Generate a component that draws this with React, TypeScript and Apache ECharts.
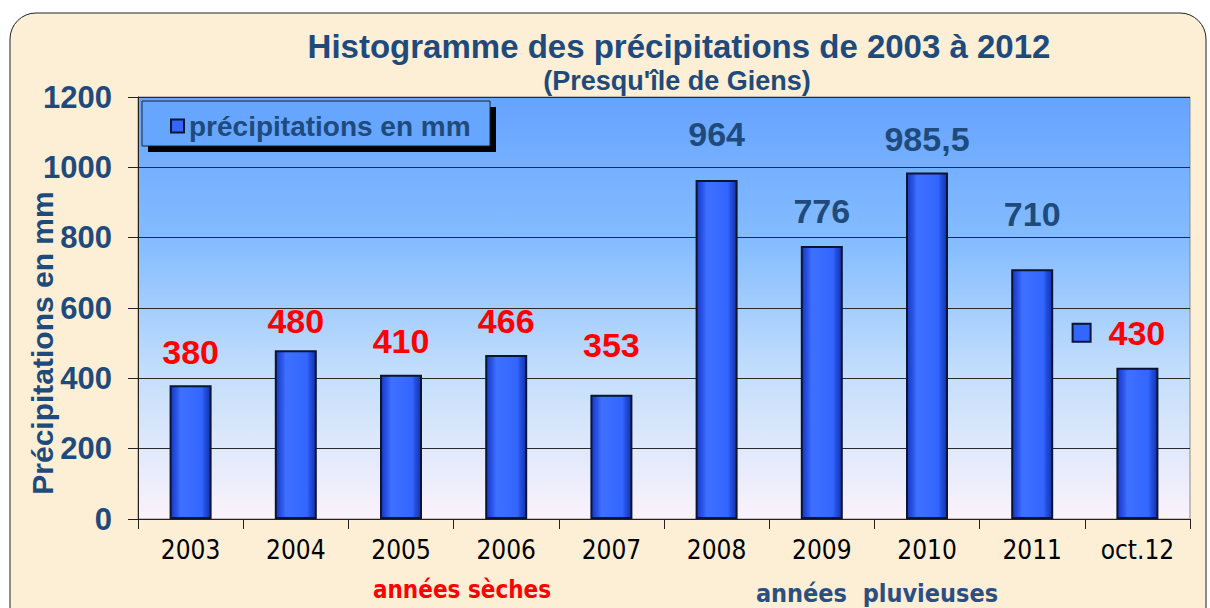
import React, { useEffect, useRef } from "react";
import * as echarts from "echarts";

const categories = ["2003", "2004", "2005", "2006", "2007", "2008", "2009", "2010", "2011", "oct.12"];
const values = [380, 480, 410, 466, 353, 964, 776, 985.5, 710, 430];
const labelColors = ["#ff0000", "#ff0000", "#ff0000", "#ff0000", "#ff0000", "#1f4a7c", "#1f4a7c", "#1f4a7c", "#1f4a7c", "#ff0000"];
const labelLift = [16, 12, 17, 17, 33, 29, 18, 16, 38, 18];
const yTicks = [0, 200, 400, 600, 800, 1000, 1200];
const seriesName = "précipitations en mm";
const titleText = "Histogramme des précipitations de 2003 à 2012";
const subtitleText = "(Presqu'île de Giens)";
const yAxisName = "Précipitations en mm";
const dryNote = "années sèches";
const wetNote = "années  pluvieuses";

const DARK = "#1f4a7c";
const FONT = "'Liberation Sans', Arial, sans-serif";
const NARROW = "'DejaVu Sans Condensed', 'Liberation Sans', Arial, sans-serif";

export default function App() {
  const ref = useRef<HTMLDivElement>(null);
  useEffect(() => {
    if (!ref.current) return;
    const chart = echarts.init(ref.current, undefined, { renderer: "svg" });
    const barColor = new echarts.graphic.LinearGradient(0, 0, 1, 0, [
      { offset: 0, color: "#1636c0" },
      { offset: 0.18, color: "#2f5cf0" },
      { offset: 0.25, color: "#3e70ff" },
      { offset: 0.78, color: "#3366ff" },
      { offset: 0.85, color: "#2450e0" },
      { offset: 1, color: "#1232b0" },
    ]);
    const data = values.map((v, i) => {
      const isLast = i === values.length - 1;
      return {
        value: v,
        label: {
          show: true,
          position: "top",
          distance: labelLift[i],
          offset: isLast ? [-18, 0] : [0, 0],
          formatter: isLast
            ? "{m|}  {v|" + String(v).replace(".", ",") + "}"
            : String(v).replace(".", ","),
          color: labelColors[i],
          fontFamily: FONT,
          fontWeight: "bold",
          fontSize: 34,
          rich: {
            m: {
              width: 16,
              height: 16,
              backgroundColor: "#3366ff",
              borderColor: "#0a1530",
              borderWidth: 2,
            },
            v: {
              color: labelColors[i],
              fontFamily: FONT,
              fontWeight: "bold",
              fontSize: 34,
            },
          },
        },
      };
    });
    chart.setOption({
      animation: false,
      backgroundColor: "#ffffff",
      grid: {
        left: 138,
        right: 20,
        top: 97,
        bottom: 89,
        show: true,
        backgroundColor: new echarts.graphic.LinearGradient(0, 0, 0, 1, [
          { offset: 0, color: "#66a3ff" },
          { offset: 0.35, color: "#86bdff" },
          { offset: 0.65, color: "#c2defc" },
          { offset: 1, color: "#fbf2fb" },
        ]),
        borderColor: "#8a8a8a",
        borderWidth: 1,
      },
      graphic: [
        {
          type: "rect",
          z: -10,
          shape: { x: 10, y: 13, width: 1196, height: 620, r: 26 },
          style: { fill: "#fcefd6", stroke: "#222222", lineWidth: 1 },
        },
        {
          type: "text",
          x: 679,
          y: 46,
          style: {
            text: titleText,
            fill: DARK,
            font: "bold 33px " + FONT,
            align: "center",
            verticalAlign: "middle",
          },
        },
        {
          type: "text",
          x: 677,
          y: 81,
          style: {
            text: subtitleText,
            fill: DARK,
            font: "bold 27px " + FONT,
            align: "center",
            verticalAlign: "middle",
          },
        },
        {
          type: "text",
          x: 42,
          y: 343,
          rotation: Math.PI / 2,
          style: {
            text: yAxisName,
            fill: DARK,
            font: "bold 30px " + FONT,
            align: "center",
            verticalAlign: "middle",
          },
        },
        {
          type: "rect",
          z: 3,
          shape: { x: 148, y: 107, width: 348, height: 45 },
          style: { fill: "#000000" },
        },
        {
          type: "rect",
          z: 3,
          shape: { x: 142, y: 101, width: 348, height: 45 },
          style: { fill: "#66a6ff", stroke: "#222222", lineWidth: 1 },
        },
        {
          type: "text",
          x: 462,
          y: 590,
          style: {
            text: dryNote,
            fill: "#ff0000",
            font: "bold 24px " + NARROW,
            align: "center",
            verticalAlign: "middle",
          },
        },
        {
          type: "text",
          x: 877,
          y: 593,
          style: {
            text: wetNote,
            fill: "#2a4f80",
            font: "bold 25px " + NARROW,
            align: "center",
            verticalAlign: "middle",
          },
        },
      ],
      legend: {
        left: 165,
        top: 107,
        itemWidth: 13,
        itemHeight: 13,
        icon: "rect",
        data: [
          {
            name: seriesName,
            itemStyle: { color: "#3366ff", borderColor: "#0a1530", borderWidth: 2 },
          },
        ],
        textStyle: { color: DARK, fontFamily: FONT, fontWeight: "bold", fontSize: 28 },
        itemGap: 4,
      },
      xAxis: {
        type: "category",
        data: categories,
        boundaryGap: true,
        axisLine: { lineStyle: { color: "#222222", width: 1 } },
        axisTick: { show: true, length: 10, alignWithLabel: false, lineStyle: { color: "#222222" } },
        axisLabel: { color: "#000000", fontFamily: NARROW, fontSize: 26, margin: 18 },
      },
      yAxis: {
        type: "value",
        min: 0,
        max: 1200,
        interval: 200,
        axisLine: { show: true, lineStyle: { color: "#222222", width: 1 } },
        axisTick: { show: true, length: 10, lineStyle: { color: "#222222" } },
        axisLabel: {
          color: DARK,
          fontFamily: FONT,
          fontWeight: "bold",
          fontSize: 31,
          margin: 26,
          formatter: (v: number) => (yTicks.includes(v) ? String(v) : ""),
        },
        splitLine: { show: true, lineStyle: { color: "#2a2a2a", width: 1 } },
      },
      series: [
        {
          name: seriesName,
          type: "bar",
          data,
          barWidth: 42,
          itemStyle: { color: barColor, borderColor: "#0a1530", borderWidth: 2 },
        },
      ],
    });
    return () => chart.dispose();
  }, []);
  return (
    <div
      ref={ref}
      style={{ position: "fixed", left: 0, top: 0, width: 1210, height: 608 }}
    />
  );
}
